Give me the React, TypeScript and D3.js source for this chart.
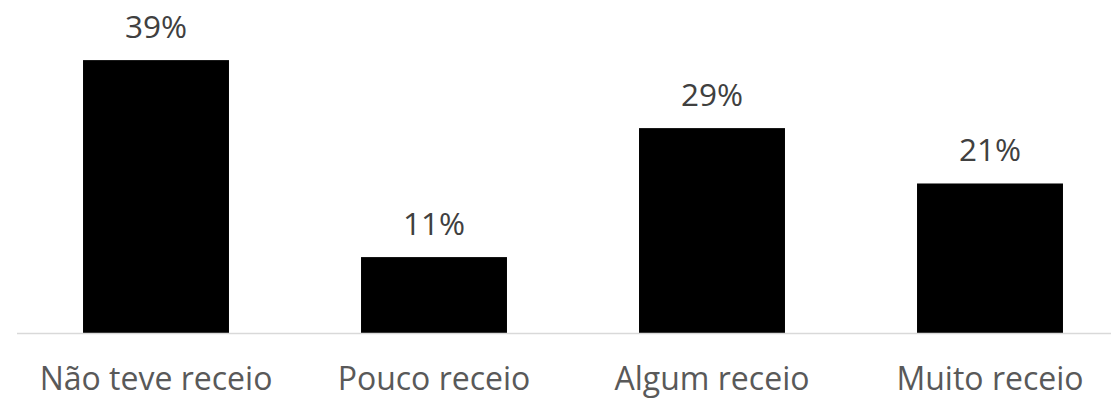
import React from "react";
import * as d3 from "d3";

const categories = ["Não teve receio", "Pouco receio", "Algum receio", "Muito receio"];
const values = [39.0, 10.9, 29.3, 21.4];
const valueLabels = ["39%", "11%", "29%", "21%"];

const W = 1111;
const H = 399;

export default function App() {
  const x = d3
    .scaleBand<string>()
    .domain(categories)
    .range([17, 1129])
    .paddingInner(0.475)
    .paddingOuter(0.2375);
  const y = d3.scaleLinear().domain([0, 40]).range([333.5, 53.1]);
  const font = "'Open Sans', 'Liberation Sans', sans-serif";
  return (
    <svg
      width={W}
      height={H}
      style={{ position: "absolute", left: 0, top: 0, background: "#fff" }}
    >
      {categories.map((c, i) => (
        <rect
          key={c}
          x={x(c)!}
          y={y(values[i])}
          width={x.bandwidth()}
          height={y(0) - y(values[i])}
          fill="#000"
        />
      ))}
      <line x1={17} x2={W} y1={y(0)} y2={y(0)} stroke="#d9d9d9" strokeWidth={1.5} />
      {categories.map((c, i) => (
        <text
          key={"v" + c}
          x={x(c)! + x.bandwidth() / 2}
          y={y(values[i]) - 22}
          textAnchor="middle"
          fontFamily={font}
          fontSize={31.5}
          fill="#404040"
        >
          {valueLabels[i]}
        </text>
      ))}
      {categories.map((c) => (
        <text
          key={"c" + c}
          x={x(c)! + x.bandwidth() / 2}
          y={390}
          textAnchor="middle"
          fontFamily={font}
          fontSize={32}
          fill="#595959"
        >
          {c}
        </text>
      ))}
    </svg>
  );
}
